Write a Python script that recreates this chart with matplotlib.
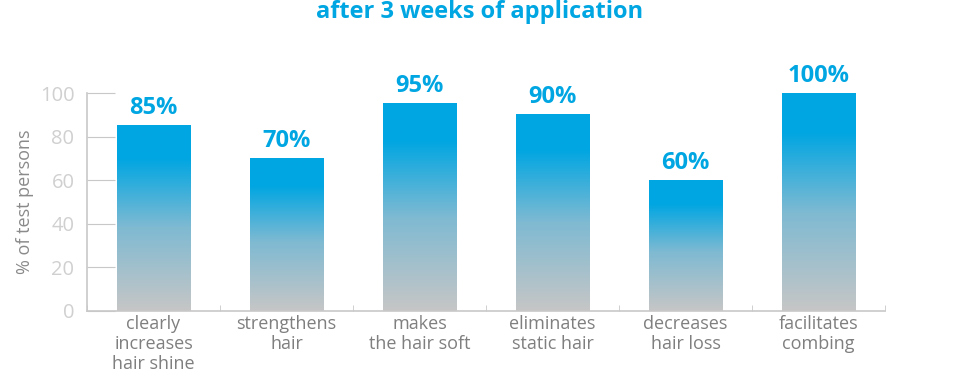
import numpy as np
import matplotlib
matplotlib.use("Agg")
import matplotlib.pyplot as plt
from matplotlib.colors import LinearSegmentedColormap

plt.rcParams['font.family'] = ['Open Sans', 'DejaVu Sans']

categories = ["clearly\nincreases\nhair shine", "strengthens\nhair", "makes\nthe hair soft",
              "eliminates\nstatic hair", "decreases\nhair loss", "facilitates\ncombing"]
values = [85, 70, 95, 90, 60, 100]
yticks = [0, 20, 40, 60, 80, 100]

blue = "#00a6e2"
grey_axis = "#c8c8c8"

cmap = LinearSegmentedColormap.from_list("bar", [(0.0, "#c6c6c6"), (0.45, "#7fbad2"),
                                                 (0.82, blue), (1.0, blue)])

fig = plt.figure(figsize=(9.6, 3.85), dpi=100)
ax = fig.add_axes([87/960, 1-311/385, (885-87)/960, (311-93)/385])

x = np.arange(len(values))
width = 0.555
grad = np.linspace(0, 1, 256).reshape(-1, 1)
for xi, v in zip(x, values):
    ax.imshow(grad, cmap=cmap, origin="lower", aspect="auto",
              extent=(xi - width/2, xi + width/2, 0, v), zorder=2)
    ax.text(xi, v + 2.5, f"{v}%", ha="center", va="bottom", color=blue,
            fontsize=17, fontweight="bold", clip_on=False)

ax.set_xlim(-0.5, len(values) - 0.5)
ax.set_ylim(0, 100)
ax.set_yticks(yticks)
ax.set_yticklabels([str(t) for t in yticks])
ax.tick_params(axis="y", direction="in", length=20, color=grey_axis,
               labelcolor="#d0d0d0", labelsize=14.5, pad=9)
ax.set_xticks(x)
ax.set_xticklabels(categories, color="#7f7f7f", fontsize=13, linespacing=1.15)
ax.tick_params(axis="x", length=0, pad=3)
ax.set_xticks(np.arange(len(values) + 1) - 0.5, minor=True)
ax.tick_params(axis="x", which="minor", direction="in", length=4, color=grey_axis)

for side in ["top", "right"]:
    ax.spines[side].set_visible(False)
for side in ["left", "bottom"]:
    ax.spines[side].set_color(grey_axis)
    ax.spines[side].set_linewidth(1.2)

ax.set_ylabel("% of test persons", color="#8a8a8a", fontsize=13, labelpad=4)

fig.text(480/960, 1 - 12/385, "after 3 weeks of application", ha="center", va="center",
         color=blue, fontsize=17, fontweight="bold")

fig.savefig("out.png", dpi=100)
